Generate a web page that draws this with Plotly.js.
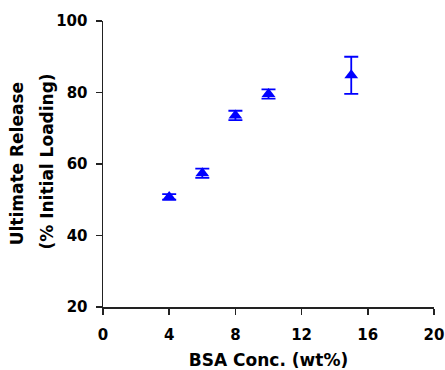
<!DOCTYPE html>
<html>
<head>
<meta charset="utf-8">
<script src="https://cdn.plot.ly/plotly-3.0.1.min.js"></script>
<style>
html,body{margin:0;padding:0;background:#fff;}
#chart{width:445px;height:370px;}
</style>
</head>
<body>
<div id="chart"></div>
<script>
const bsaConc = [4, 6, 8, 10, 15];
const ultimateRelease = [50.8, 57.4, 73.6, 79.6, 84.8];
const releaseError = [0.8, 1.3, 1.3, 1.3, 5.2];
const xTicks = [0, 4, 8, 12, 16, 20];
const yTicks = [20, 40, 60, 80, 100];

const fam = 'DejaVu Sans, sans-serif';

const trace = {
  x: bsaConc,
  y: ultimateRelease,
  type: 'scatter',
  mode: 'markers',
  marker: {symbol: 'triangle-up', size: 12, color: '#0000FF'},
  error_y: {type: 'data', array: releaseError, visible: true, color: '#0000FF', thickness: 1.8, width: 7},
  showlegend: false,
  cliponaxis: false
};

const layout = {
  width: 445, height: 370,
  margin: {l: 103, r: 11, t: 21, b: 63},
  paper_bgcolor: '#fff', plot_bgcolor: '#fff',
  font: {family: fam, size: 17, color: '#000'},
  xaxis: {
    range: [0, 20], tickvals: xTicks, ticktext: xTicks.map(String),
    showgrid: false, zeroline: false, showline: true, linecolor: '#222', linewidth: 1.5,
    ticks: 'outside', ticklen: 6, tickwidth: 1.5, tickcolor: '#222',
    tickfont: {family: fam, size: 15, color: '#000', weight: 700},
    ticklabelstandoff: 7, ticklabeloverflow: 'allow',
    title: {text: 'BSA Conc. (wt%)', font: {family: fam, size: 17, color: '#000', weight: 700}, standoff: 11}
  },
  yaxis: {
    range: [20, 100], tickvals: yTicks, ticktext: yTicks.map(String),
    showgrid: false, zeroline: false, showline: true, linecolor: '#222', linewidth: 1.5,
    ticks: 'outside', ticklen: 6, tickwidth: 1.5, tickcolor: '#222',
    tickfont: {family: fam, size: 15, color: '#000', weight: 700},
    ticklabelstandoff: 5, ticklabeloverflow: 'allow'
  },
  annotations: [
    {text: 'Ultimate Release', xref: 'paper', yref: 'paper', x: -0.2587, y: 0.5,
     xanchor: 'center', yanchor: 'middle', textangle: -90, showarrow: false,
     font: {family: fam, size: 17, color: '#000', weight: 700}},
    {text: '(% Initial Loading)', xref: 'paper', yref: 'paper', x: -0.168, y: 0.51,
     xanchor: 'center', yanchor: 'middle', textangle: -90, showarrow: false,
     font: {family: fam, size: 17, color: '#000', weight: 700}}
  ]
};

Plotly.newPlot('chart', [trace], layout, {displayModeBar: false, staticPlot: true});
</script>
</body>
</html>
